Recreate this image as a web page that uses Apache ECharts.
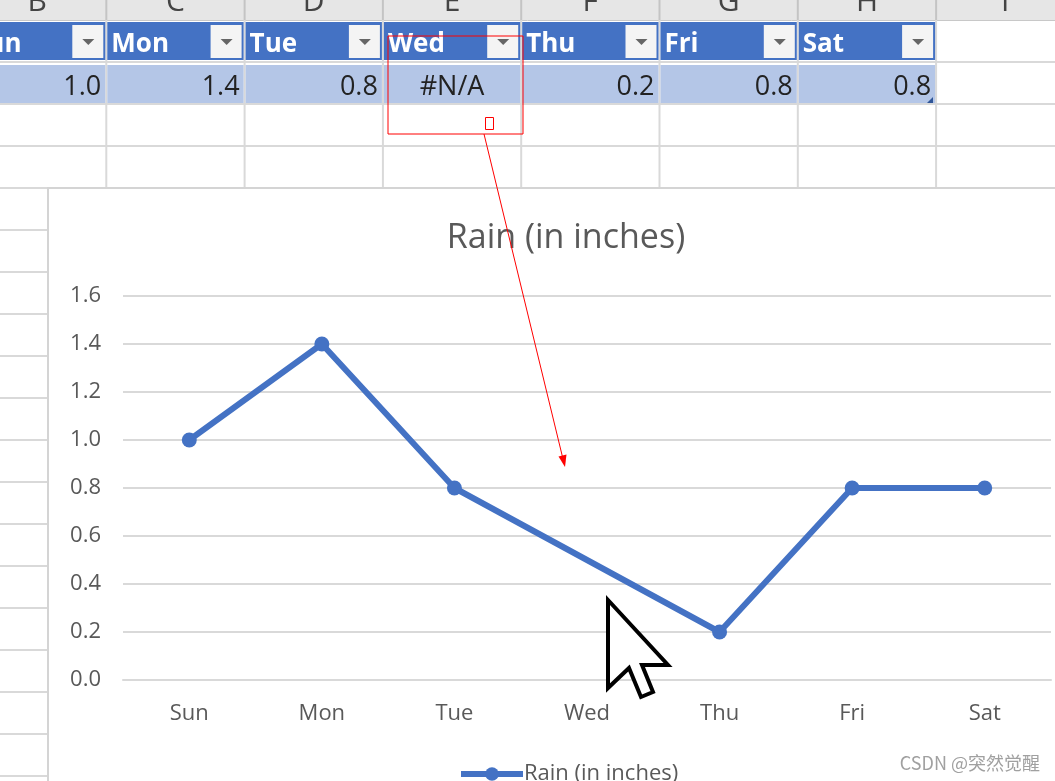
<!DOCTYPE html>
<html>
<head>
<meta charset="utf-8">
<script src="https://cdn.jsdelivr.net/npm/echarts@6.0.0/dist/echarts.min.js"></script>
<style>
  body { margin: 0; background: #fff; }
  #main { width: 1055px; height: 781px; }
</style>
</head>
<body>
<div id="main"></div>
<script>
// data
var days = ['Sun', 'Mon', 'Tue', 'Wed', 'Thu', 'Fri', 'Sat'];
var rain = [1.0, 1.4, 0.8, null, 0.2, 0.8, 0.8]; // Wed = #N/A
var colLetters = ['B', 'C', 'D', 'E', 'F', 'G', 'H', 'I'];
var seriesName = 'Rain (in inches)';
var yTicks = { min: 0, max: 1.6, interval: 0.2 };

var font = '"Open Sans", sans-serif';
var colW = 138.3;
var colX0 = -32;
var grey = '#595959';
var cellLine = '#d9d9d9';

var myChart = echarts.init(document.getElementById('main'));

// spreadsheet behind the chart
var back = [];
back.push({ type: 'rect', z: -20, shape: { x: 0, y: 0, width: 1055, height: 20 }, style: { fill: '#e6e6e6' } });
back.push({ type: 'line', z: -19, shape: { x1: 0, y1: 20.5, x2: 1055, y2: 20.5 }, style: { stroke: '#c8c8c8', lineWidth: 1 } });
colLetters.forEach(function (l, i) {
  var left = colX0 + i * colW;
  back.push({ type: 'line', z: -19, shape: { x1: left + colW, y1: 0, x2: left + colW, y2: 20 }, style: { stroke: '#c4c4c4', lineWidth: 2 } });
  back.push({ type: 'text', z: -18, x: left + colW / 2, y: 2,
    style: { text: l, fill: '#444', fontSize: 30, fontFamily: font, align: 'center', verticalAlign: 'middle' } });
});
// grid lines of the empty cells
[62, 104, 146, 188].forEach(function (y) {
  back.push({ type: 'line', z: -19, shape: { x1: 0, y1: y, x2: 1055, y2: y }, style: { stroke: cellLine, lineWidth: 2 } });
});
for (var i = 0; i <= colLetters.length; i++) {
  var bx = colX0 + i * colW;
  back.push({ type: 'line', z: -19, shape: { x1: bx, y1: 20, x2: bx, y2: 188 }, style: { stroke: cellLine, lineWidth: 2 } });
}
// table header and values
days.forEach(function (d, i) {
  var left = colX0 + i * colW;
  back.push({ type: 'rect', z: -15, shape: { x: left + 1, y: 22, width: colW - 2, height: 38 }, style: { fill: '#4472C4' } });
  back.push({ type: 'rect', z: -14, shape: { x: left + colW - 34, y: 25, width: 31, height: 33 }, style: { fill: '#f4f4f4' } });
  var cx = left + colW - 18;
  back.push({ type: 'polygon', z: -13, shape: { points: [[cx - 6, 39], [cx + 6, 39], [cx, 45]] }, style: { fill: '#666' } });
  back.push({ type: 'text', z: -13, x: left + 5, y: 45,
    style: { text: d, fill: '#fff', fontSize: 26, fontWeight: 'bold', fontFamily: font, verticalAlign: 'middle' } });
  back.push({ type: 'rect', z: -15, shape: { x: left + 1, y: 65, width: colW - 2, height: 38 }, style: { fill: '#B4C6E7' } });
  var v = rain[i];
  back.push({ type: 'text', z: -13, x: v === null ? left + colW / 2 : left + colW - 5, y: 87,
    style: { text: v === null ? '#N/A' : v.toFixed(1), fill: '#222', fontSize: 27, fontFamily: font,
      align: v === null ? 'center' : 'right', verticalAlign: 'middle' } });
});
back.push({ type: 'polygon', z: -12, shape: { points: [[927, 103], [933, 97], [933, 103]] }, style: { fill: '#2F5597' } });
// row lines left of the chart
for (var ry = 230; ry < 781; ry += 42) {
  back.push({ type: 'line', z: -19, shape: { x1: 0, y1: ry, x2: 48, y2: ry }, style: { stroke: cellLine, lineWidth: 2 } });
}
// chart area
back.push({ type: 'rect', z: -10, shape: { x: 48, y: 188, width: 1020, height: 610 }, style: { fill: '#fff', stroke: '#d4d4d4', lineWidth: 2 } });

// annotations on top
var front = [
  { type: 'rect', z: 100, shape: { x: 388, y: 36, width: 135, height: 98 }, style: { fill: 'none', stroke: '#ff0000', lineWidth: 1 } },
  { type: 'rect', z: 100, shape: { x: 485.5, y: 117.5, width: 8, height: 12 }, style: { fill: 'none', stroke: '#ff0000', lineWidth: 1 } },
  { type: 'line', z: 100, shape: { x1: 484, y1: 134, x2: 563, y2: 459 }, style: { stroke: '#ff0000', lineWidth: 1 } },
  { type: 'polygon', z: 100, shape: { points: [[565, 467], [566.5, 454.5], [558.5, 456.5]] }, style: { fill: '#ff0000' } },
  { type: 'polygon', z: 101, shape: { points: [[608, 600], [608, 688], [629, 668], [641, 697], [653, 692], [642, 665], [668, 665]] },
    style: { fill: '#fff', stroke: '#000', lineWidth: 4, lineJoin: 'miter' } },
  { type: 'text', z: 100, x: 1040, y: 763,
    style: { text: 'CSDN @突然觉醒', fill: '#a0a0a0', fontSize: 18, fontFamily: '"Noto Sans CJK SC", sans-serif', align: 'right', verticalAlign: 'middle' } }
];

var option = {
  animation: false,
  backgroundColor: '#fff',
  title: {
    text: seriesName,
    left: 561,
    top: 216,
    textAlign: 'center',
    textStyle: { color: grey, fontSize: 34, fontWeight: 'normal', fontFamily: font }
  },
  legend: {
    data: [seriesName],
    left: 453,
    top: 758,
    itemWidth: 62,
    itemHeight: 17,
    itemGap: 10,
    lineStyle: { width: 6 },
    textStyle: { color: grey, fontSize: 22, fontFamily: font, padding: [0, 0, 0, -4] }
  },
  grid: { left: 123, right: 4, top: 296, bottom: 101, outerBoundsMode: 'none' },
  xAxis: {
    type: 'category',
    data: days,
    boundaryGap: true,
    axisLine: { show: true, lineStyle: { color: cellLine, width: 2 } },
    axisTick: { show: false },
    axisLabel: { color: grey, fontSize: 22, fontFamily: font, margin: 23 }
  },
  yAxis: {
    type: 'value',
    min: yTicks.min,
    max: yTicks.max,
    interval: yTicks.interval,
    axisLine: { show: false },
    axisTick: { show: false },
    axisLabel: { color: grey, fontSize: 22, fontFamily: font, margin: 22,
      formatter: function (v) { return v.toFixed(1); } },
    splitLine: { lineStyle: { color: cellLine, width: 2 } }
  },
  series: [
    {
      name: seriesName,
      type: 'line',
      data: rain,
      connectNulls: true,
      symbol: 'circle',
      symbolSize: 15,
      color: '#4472C4',
      lineStyle: { width: 6, color: '#4472C4' },
      itemStyle: { color: '#4472C4' }
    }
  ],
  graphic: back.concat(front)
};
myChart.setOption(option);
</script>
</body>
</html>
